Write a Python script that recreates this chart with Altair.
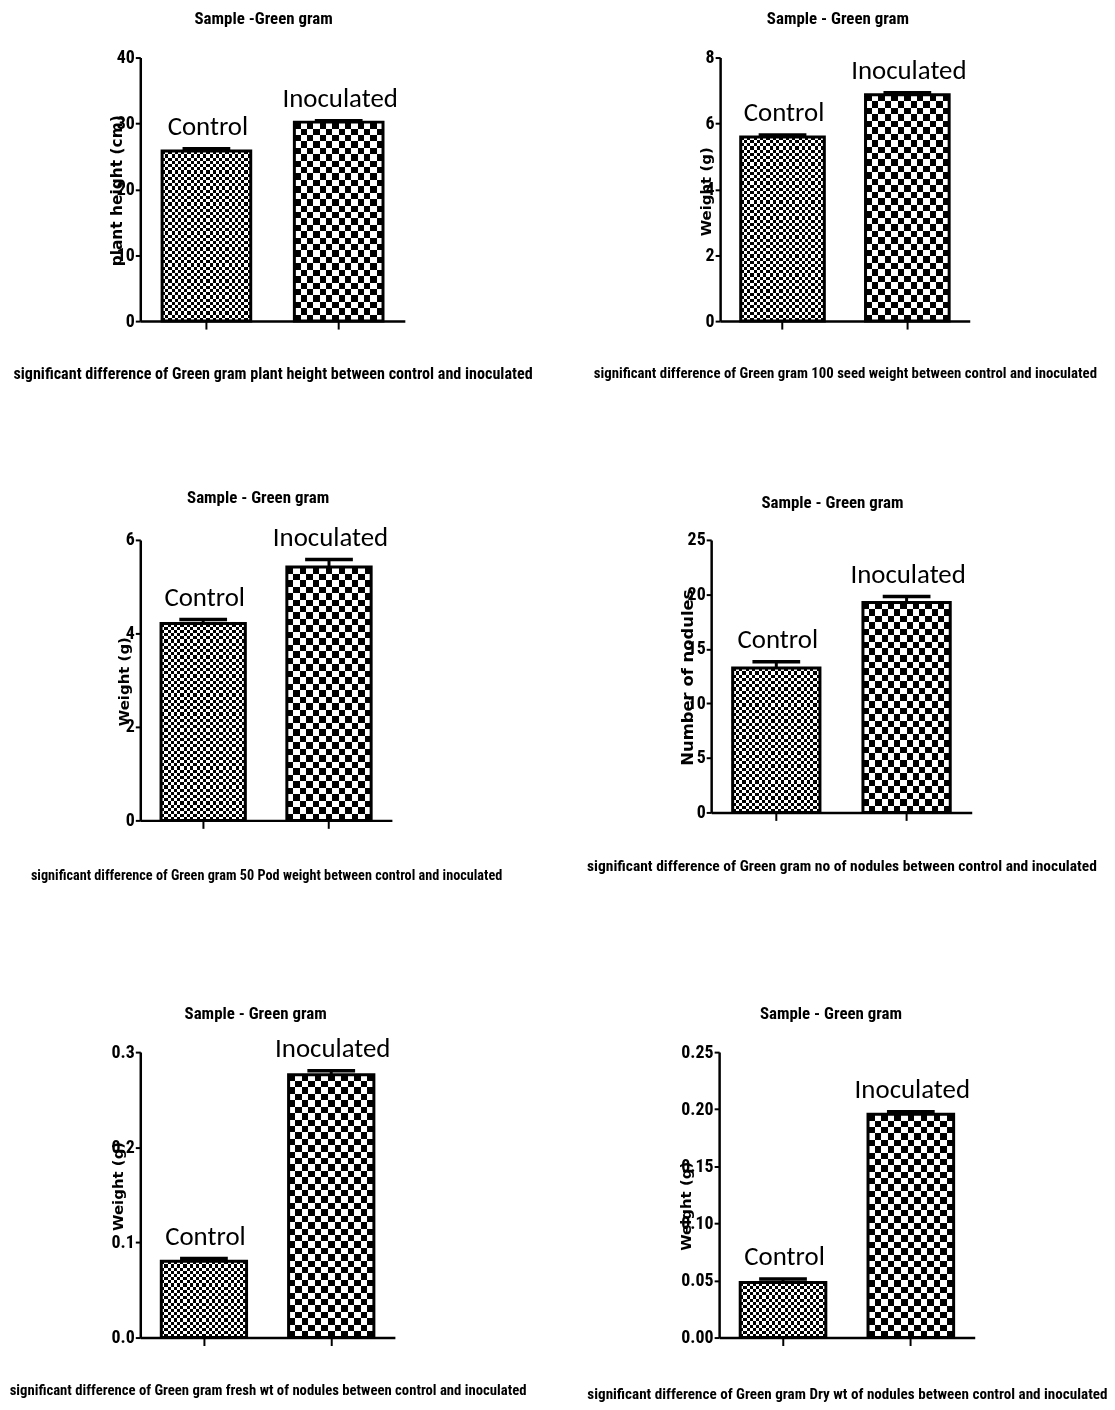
import altair as alt
import pandas as pd

# ---------------- data ----------------
groups = ["Control", "Inoculated"]

plant_height = [25.8, 30.2]
plant_height_sem = [0.35, 0.2]
seed_weight_100 = [5.59, 6.87]
seed_weight_100_sem = [0.06, 0.06]
pod_weight_50 = [4.21, 5.42]
pod_weight_50_sem = [0.085, 0.16]
nodule_count = [13.24, 19.25]
nodule_count_sem = [0.58, 0.55]
nodule_fresh_wt = [0.0803, 0.2763]
nodule_fresh_wt_sem = [0.0027, 0.0042]
nodule_dry_wt = [0.0483, 0.1956]
nodule_dry_wt_sem = [0.0030, 0.0021]

panel_titles = ["Sample -Green gram", "Sample - Green gram", "Sample - Green gram",
                "Sample - Green gram", "Sample - Green gram", "Sample - Green gram"]
y_titles = ["plant height (cm)", "Weight (g)", "Weight (g)",
            "Number of nodules", "Weight (g)", "Weight (g)"]
captions = [
    "significant difference of Green gram plant height between control and inoculated",
    "significant difference of Green gram 100 seed weight between control and inoculated",
    "significant difference of Green gram 50 Pod weight between control and inoculated",
    "significant difference of Green gram no of nodules between control and inoculated",
    "significant difference of Green gram fresh wt of nodules between control and inoculated",
    "significant difference of Green gram Dry wt of nodules between control and inoculated",
]
y_ticks = [[0, 10, 20, 30, 40], [0, 2, 4, 6, 8], [0, 2, 4, 6],
           [0, 5, 10, 15, 20, 25], [0, 0.1, 0.2, 0.3], [0, 0.05, 0.10, 0.15, 0.20, 0.25]]
tick_formats = ["d", "d", "d", "d", ".1f", ".2f"]

series = [
    (plant_height, plant_height_sem),
    (seed_weight_100, seed_weight_100_sem),
    (pod_weight_50, pod_weight_50_sem),
    (nodule_count, nodule_count_sem),
    (nodule_fresh_wt, nodule_fresh_wt_sem),
    (nodule_dry_wt, nodule_dry_wt_sem),
]

# ---------------- style / layout ----------------
NARROW = "Roboto Condensed"
WIDE = "DejaVu Sans"
LABEL_FONT = "Carlito"

layout = [
    dict(w=266, h=265, title_dx=-9, title_off=8, yt_x=-24, yt_dy=1, yt_fs=15.5, cap_y=53, cap_fs=16.2),
    dict(w=251, h=265, title_dx=-7, title_off=8, yt_x=-15, yt_dy=2, yt_fs=15, cap_y=53, cap_fs=14.9),
    dict(w=253, h=282, title_dx=-8, title_off=4, yt_x=-17, yt_dy=1, yt_fs=15, cap_y=55, cap_fs=14.3),
    dict(w=262, h=274, title_dx=-9, title_off=6, yt_x=-24, yt_dy=1, yt_fs=16.5, cap_y=53, cap_fs=15.6),
    dict(w=256, h=287, title_dx=-12, title_off=-1, yt_x=-23, yt_dy=-9, yt_fs=15, cap_y=53, cap_fs=14.8),
    dict(w=257, h=287, title_dx=-16, title_off=7, yt_x=-34, yt_dy=11, yt_fs=15, cap_y=56, cap_fs=15.2),
]
PAD_INNER = 0.33
FINE_CELL = 3.2
COARSE_CELL = 6.5


def stripe_fill(n, horizontal):
    stops = []
    for k in range(n):
        col = "black" if k % 2 == 0 else "white"
        stops.append(alt.GradientStop(offset=round(k / n, 5), color=col))
        stops.append(alt.GradientStop(offset=round((k + 1) / n, 5), color=col))
    if horizontal:
        return alt.LinearGradient(gradient="linear", stops=stops, x1=0, y1=0, x2=1, y2=0)
    return alt.LinearGradient(gradient="linear", stops=stops, x1=0, y1=0, x2=0, y2=1)


def make_panel(i):
    values, sems = series[i]
    L = layout[i]
    ymax = y_ticks[i][-1]
    df = pd.DataFrame({"group": groups, "value": values, "sem": sems})
    df["upper"] = df["value"] + df["sem"]
    base = alt.Chart(df)

    xscale = alt.Scale(domain=groups, paddingInner=PAD_INNER, paddingOuter=PAD_INNER / 2)
    yscale = alt.Scale(domain=[0, ymax], nice=False, zero=True)

    x_axis = alt.Axis(
        labels=False, ticks=True, tickSize=8, tickWidth=2, tickColor="black",
        domainColor="black", domainWidth=2.5, grid=False,
        title=captions[i], titleFont=NARROW, titleFontSize=L["cap_fs"], titleFontWeight="bold",
        titleColor="black", titleX=L["w"] / 2, titleY=L["cap_y"],
        titleAlign="center", titleBaseline="middle",
    )
    y_axis = alt.Axis(
        values=y_ticks[i], format=tick_formats[i], grid=False,
        labelFont=NARROW, labelFontSize=18, labelFontWeight="bold", labelColor="black",
        labelPadding=1, tickSize=5, tickWidth=2, tickColor="black",
        domainColor="black", domainWidth=2.5,
        title=y_titles[i], titleFont=WIDE, titleFontSize=L["yt_fs"], titleFontWeight="bold",
        titleColor="black", titleAngle=270, titleAlign="center", titleBaseline="middle",
        titleX=L["yt_x"], titleY=L["h"] / 2 + L["yt_dy"],
    )

    X = alt.X("group:N", scale=xscale, axis=x_axis)
    Yv = alt.Y("value:Q", scale=yscale, axis=y_axis)
    Yu = alt.Y("upper:Q", scale=yscale, axis=y_axis)

    bw = L["w"] / 2 * (1 - PAD_INNER)
    layers = []
    for gi, g in enumerate(groups):
        cell = FINE_CELL if gi == 0 else COARSE_CELL
        ph = values[gi] / ymax * L["h"]
        ncol = max(2, round(bw / cell))
        nrow = max(2, round(ph / cell))
        sub = base.transform_filter(alt.datum.group == g)
        layers.append(sub.mark_bar(fill=stripe_fill(ncol, True)).encode(x=X, y=Yv))
        layers.append(sub.mark_bar(fill=stripe_fill(nrow, False), blend="difference")
                      .encode(x=X, y=Yv))

    outline = base.mark_bar(fill="white", fillOpacity=0, stroke="black", strokeWidth=3).encode(
        x=X, y=Yv)
    err = base.mark_rule(color="black", strokeWidth=3).encode(x=X, y=Yv, y2="upper:Q")
    cap = base.mark_tick(color="black", opacity=1, thickness=3.5, size=48).encode(x=X, y=Yu)
    txt = base.mark_text(font=LABEL_FONT, fontSize=27, color="black",
                         baseline="alphabetic", align="center", dy=-14, dx=1.5).encode(
        x=X, y=Yu, text="group:N")

    return alt.layer(*layers, outline, err, cap, txt).properties(
        width=L["w"], height=L["h"],
        title=alt.TitleParams(panel_titles[i], font=NARROW, fontSize=17, fontWeight="bold",
                              color="black", anchor="middle", frame="group",
                              baseline="alphabetic", offset=L["title_off"], dx=L["title_dx"]),
    )


p = [make_panel(i) for i in range(6)]

row1 = alt.hconcat(p[0], p[1], spacing=317, bounds="flush")
row2 = alt.hconcat(p[2], p[3], spacing=321, bounds="flush")
row3 = alt.hconcat(p[4], p[5], spacing=326, bounds="flush")
lower = alt.vconcat(row2, row3, spacing=515, bounds="flush")

chart = (
    alt.vconcat(row1, lower, spacing=485, bounds="flush")
    .properties(padding={"top": -2, "left": 0, "right": 0, "bottom": 0}, background="white")
    .configure_view(stroke=None)
)

chart.save("out.html", embed_options={"renderer": "svg", "actions": False})
